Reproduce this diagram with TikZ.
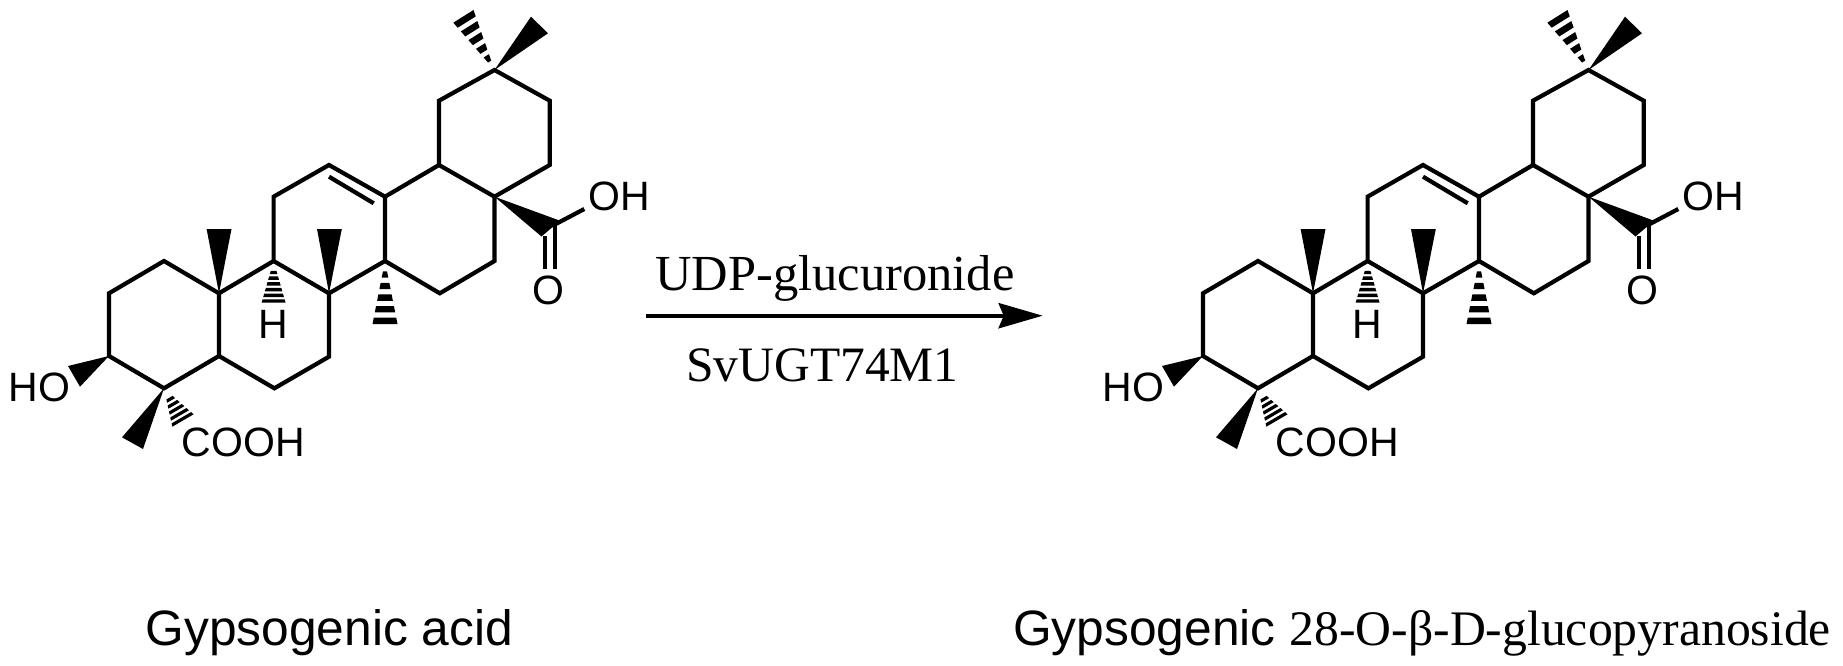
\documentclass[tikz,border=0pt]{standalone}
\usepackage{fontspec}
\setmainfont{Liberation Serif}
\setsansfont{Liberation Sans}
\usetikzlibrary{arrows.meta, calc}

\newcommand{\hashbond}[6]{%
  \foreach \i in {1,...,#4}{
    \pgfmathsetmacro{\tlo}{#5+(1-#5)*(\i-#6)/#4}
    \pgfmathsetmacro{\thi}{#5+(1-#5)*\i/#4}
    \fill ($(#1)!\tlo!(#2)$) -- ($(#1)!\thi!(#2)$) -- ($(#1)!\thi!(#3)$) -- ($(#1)!\tlo!(#3)$) -- cycle;
  }}

\begin{document}
\begin{tikzpicture}[
    x=1pt, y=-1pt,
    bond/.style={line width=4.2pt, line join=miter, line cap=butt},
    atomlabel/.style={font=\sffamily\fontsize{41}{41}\selectfont, inner sep=0pt, anchor=base},
    reagent/.style={font=\fontsize{50.5}{51}\selectfont, inner sep=0pt, anchor=base},
    compound/.style={font=\sffamily\fontsize{49.7}{51}\selectfont, inner sep=0pt, anchor=base west}
]
\useasboundingbox (0,0) rectangle (1843,666);

\foreach \pre/\dx in {lft/0,rgt/1094}{
\begin{scope}[shift={(\dx,0)}, name prefix=\pre]
  % ring atoms
  \foreach \atom/\ax/\ay in {c1/164/261, c2/109/293.3, c3/109/356, c4/164/388.3, c5/219/356,
      c6/274.4/388.3, c7/329/356.7, c8/329/293.3, c9/273.6/261, c10/219/293.3, c11/273.6/196.7,
      c12/329/165, c13/385/196.7, c14/385/261, c15/439.8/293.3, c16/494.5/261, c17/494.5/196.7,
      c18/439/165, c19/439/100.7, c20/494.5/70, c21/549.7/100.7, c22/549.7/165}
    \coordinate (\atom) at (\ax,\ay);
  \coordinate (dbl1) at (329,176.7);
  \coordinate (dbl2) at (373.7,203.3);
  \coordinate (cc) at (552,226);
  \coordinate (ohend) at (584.3,209);
  \coordinate (coA1) at (545,236);
  \coordinate (coA2) at (545,269);
  \coordinate (coB1) at (555,225);
  \coordinate (coB2) at (555,269);

  \draw[bond] (c1) -- (c2) -- (c3) -- (c4) -- (c5) -- (c10) -- cycle;
  \draw[bond] (c5) -- (c6) -- (c7) -- (c8) -- (c9) -- (c10);
  \draw[bond] (c9) -- (c11) -- (c12) -- (c13) -- (c14) -- (c8);
  \draw[bond] (c14) -- (c15) -- (c16) -- (c17) -- (c18) -- (c13);
  \draw[bond] (c18) -- (c19) -- (c20) -- (c21) -- (c22) -- (c17);
  \draw[bond] (dbl1) -- (dbl2);
  \draw[bond] (cc) -- (ohend);
  \draw[bond] (coA1) -- (coA2);
  \draw[bond] (coB1) -- (coB2);

  % solid wedges
  \fill (c20) -- (531,16.7) -- (548,33.3) -- cycle;
  \fill (c17) -- (560,220.7) -- (541.5,236.5) -- cycle;
  \fill (c10) -- (206.6,229) -- (231.5,229) -- cycle;
  \fill (c8) -- (317,229) -- (341.8,229) -- cycle;
  \fill (c3) -- (68,366) -- (80,386.7) -- cycle;
  \fill (c4) -- (122,437.3) -- (143,449) -- cycle;

  % hashed wedges
  \coordinate (meA) at (473.5,10);
  \coordinate (meB) at (453.3,22.7);
  \hashbond{c20}{meA}{meB}{5}{0.08}{0.58}
  \coordinate (hA) at (261.6,302.7);
  \coordinate (hB) at (285.6,302.7);
  \hashbond{c9}{hA}{hB}{6}{0.18}{0.6}
  \coordinate (mhA) at (372.5,324);
  \coordinate (mhB) at (397.5,324);
  \hashbond{c14}{mhA}{mhB}{5}{0.08}{0.55}
  \coordinate (cooA) at (193.6,414.3);
  \coordinate (cooB) at (172.3,426.7);
  \hashbond{c4}{cooA}{cooB}{5}{0.22}{0.55}

  \node[atomlabel] (oh) at (619.5,210.7) {OH};
  \node[atomlabel] (oxo) at (548.5,304.5) {O};
  \node[atomlabel] (hyd) at (273.6,338.3) {H};
  \node[atomlabel] (ho) at (39.7,401.7) {HO};
  \node[atomlabel, anchor=base west] (cooh) at (181.5,456.7) {COOH};
\end{scope}
}

\node[reagent] (udp) at (835,290) {UDP-glucuronide};
\node[reagent, font=\fontsize{49.5}{50}\selectfont] (enz) at (822.5,381.7) {SvUGT74M1};
\coordinate (start) at (646,315.7);
\coordinate (finish) at (1042.7,315.7);
\draw[line width=4.4pt, -{Stealth[length=44pt, width=25pt, inset=5pt]}] (start) -- (finish);

\node[compound] (acid) at (145.5,645) {Gypsogenic acid};
\node[compound] (glyc) at (1013,645) {Gypsogenic {\rmfamily 28-O-β-D-glucopyranoside}};
\end{tikzpicture}
\end{document}
